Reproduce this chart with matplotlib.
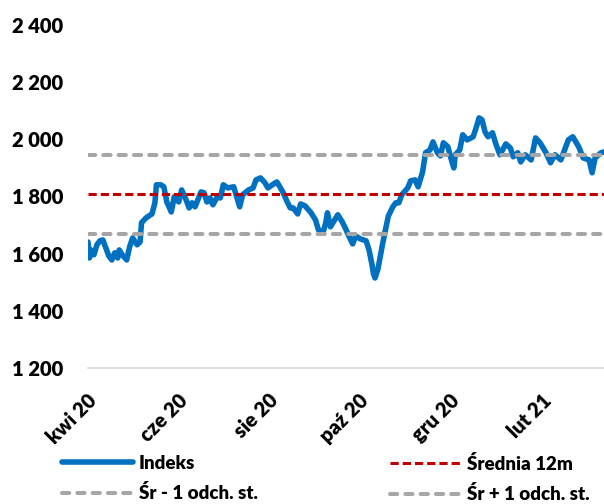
import matplotlib
matplotlib.use('Agg')
import matplotlib.pyplot as plt
from matplotlib.lines import Line2D
from matplotlib.transforms import ScaledTranslation
import pandas as pd

# ---- data -------------------------------------------------------------
dates = [
    '2020-03-25', '2020-03-26', '2020-03-27', '2020-03-29', '2020-03-31',
    '2020-04-02', '2020-04-04', '2020-04-06', '2020-04-08', '2020-04-10',
    '2020-04-12', '2020-04-14', '2020-04-15', '2020-04-17', '2020-04-20',
    '2020-04-22', '2020-04-24', '2020-04-27', '2020-04-29', '2020-04-30',
    '2020-05-03', '2020-05-07', '2020-05-09', '2020-05-10', '2020-05-13',
    '2020-05-15', '2020-05-17', '2020-05-20', '2020-05-22', '2020-05-25',
    '2020-05-27', '2020-05-30', '2020-06-01', '2020-06-03', '2020-06-05',
    '2020-06-09', '2020-06-11', '2020-06-13', '2020-06-15', '2020-06-17',
    '2020-06-20', '2020-06-22', '2020-06-24', '2020-06-27', '2020-07-01',
    '2020-07-03', '2020-07-05', '2020-07-07', '2020-07-11', '2020-07-14',
    '2020-07-16', '2020-07-19', '2020-07-22', '2020-07-24', '2020-07-27',
    '2020-07-30', '2020-08-01', '2020-08-03', '2020-08-06', '2020-08-08',
    '2020-08-10', '2020-08-13', '2020-08-15', '2020-08-18', '2020-08-22',
    '2020-08-25', '2020-08-27', '2020-08-30', '2020-09-01', '2020-09-02',
    '2020-09-04', '2020-09-06', '2020-09-09', '2020-09-12', '2020-09-14',
    '2020-09-16', '2020-09-19', '2020-09-21', '2020-09-24', '2020-09-28',
    '2020-09-30', '2020-10-02', '2020-10-03', '2020-10-04', '2020-10-06',
    '2020-10-09', '2020-10-11', '2020-10-13', '2020-10-16', '2020-10-18',
    '2020-10-20', '2020-10-22', '2020-10-26', '2020-10-28', '2020-10-31',
    '2020-11-02', '2020-11-05', '2020-11-07', '2020-11-10', '2020-11-12',
    '2020-11-15', '2020-11-17', '2020-11-19', '2020-11-22', '2020-11-24',
    '2020-11-26', '2020-11-27', '2020-11-30', '2020-12-02', '2020-12-05',
    '2020-12-09', '2020-12-11', '2020-12-13', '2020-12-15', '2020-12-17',
    '2020-12-19', '2020-12-22', '2020-12-24', '2020-12-27', '2020-12-31',
    '2021-01-03', '2021-01-05', '2021-01-08', '2021-01-10', '2021-01-13',
    '2021-01-17', '2021-01-20', '2021-01-23', '2021-01-27', '2021-01-30',
    '2021-02-02', '2021-02-06', '2021-02-09', '2021-02-11', '2021-02-14',
    '2021-02-18', '2021-02-21', '2021-02-25', '2021-02-27', '2021-03-01',
    '2021-03-05', '2021-03-07',
]

indeks = [
    1641, 1585, 1613, 1596, 1631,
    1645, 1648, 1620, 1592, 1578,
    1603, 1585, 1613, 1596, 1578,
    1624, 1655, 1631, 1641, 1708,
    1725, 1739, 1778, 1841, 1841,
    1834, 1781, 1746, 1799, 1781,
    1823, 1788, 1760, 1778, 1764,
    1816, 1813, 1781, 1795, 1771,
    1799, 1795, 1841, 1830, 1834,
    1799, 1764, 1806, 1823, 1830,
    1858, 1865, 1848, 1830, 1841,
    1851, 1834, 1816, 1781, 1760,
    1760, 1739, 1774, 1767, 1743,
    1718, 1683, 1673, 1711, 1743,
    1694, 1711, 1736, 1711, 1690,
    1666, 1634, 1662, 1652, 1645,
    1613, 1561, 1529, 1515, 1547,
    1631, 1683, 1732, 1764, 1778,
    1778, 1806, 1830, 1855, 1858,
    1834, 1886, 1953, 1963, 1991,
    1953, 1942, 1988, 1974, 1935,
    1900, 1946, 1963, 2016, 1998,
    2009, 2040, 2075, 2068, 2026,
    2009, 2023, 1988, 1946, 1984,
    1970, 1939, 1953, 1921, 1946,
    1928, 2005, 1988, 1953, 1918,
    1946, 1928, 1970, 1998, 2009,
    1974, 1935, 1928, 1883, 1935,
    1953, 1956,
]

srednia_12m = 1807
odch_st = 138

tick_dates = ['2020-04-01', '2020-06-01', '2020-08-01',
              '2020-10-01', '2020-12-01', '2021-02-01']
tick_labels = ['kwi 20', 'cze 20', 'sie 20', 'paź 20', 'gru 20', 'lut 21']
ytick_values = [1200, 1400, 1600, 1800, 2000, 2200, 2400]
ytick_labels = ['1 200', '1 400', '1 600', '1 800', '2 000', '2 200', '2 400']

legend_labels = ['Indeks', 'Średnia 12m', 'Śr - 1 odch. st.', 'Śr + 1 odch. st.']

# ---- style ------------------------------------------------------------
plt.rcParams['font.family'] = ['Lato', 'DejaVu Sans']
WEIGHT = 'heavy'

BLUE = '#0070C0'
RED = '#C00000'
GRAY = '#A6A6A6'

fig = plt.figure(figsize=(6.04, 5.04), dpi=100)
ax = fig.add_axes([88 / 604, (504 - 368) / 504, (604 - 88) / 604, 343 / 504])

x = pd.to_datetime(dates)
ax.plot(x, indeks, color=BLUE, lw=4.0, solid_joinstyle='round',
        solid_capstyle='round', zorder=2)

red_kw = dict(color=RED, lw=2.2, dashes=(2.7, 1.3), zorder=3)
gray_kw = dict(color=GRAY, lw=2.9, dashes=(1.8, 2.0),
               dash_capstyle='round', zorder=3)
ax.axhline(srednia_12m, **red_kw)
ax.axhline(srednia_12m - odch_st, **gray_kw)
ax.axhline(srednia_12m + odch_st, **gray_kw)

ax.set_xlim(x[0], x[-1])
ax.set_ylim(ytick_values[0], ytick_values[-1])

ax.set_yticks(ytick_values)
ax.set_yticklabels(ytick_labels, fontsize=14.5, fontweight=WEIGHT)
ax.set_xticks(pd.to_datetime(tick_dates))
ax.set_xticklabels(tick_labels, fontsize=14.5, fontweight=WEIGHT,
                   rotation=45, ha='right', va='center',
                   rotation_mode='anchor')
ax.tick_params(axis='y', length=0, pad=18)
ax.tick_params(axis='x', length=0, pad=21)
shift = ScaledTranslation(-5 / 100, 0, fig.dpi_scale_trans)
for lbl in ax.get_xticklabels():
    lbl.set_transform(lbl.get_transform() + shift)

for s in ['left', 'right', 'top']:
    ax.spines[s].set_visible(False)
ax.spines['bottom'].set_color('#D9D9D9')
ax.spines['bottom'].set_linewidth(1.2)
ax.set_facecolor('white')

h_ind = Line2D([], [], color=BLUE, lw=4.0, solid_capstyle='round')
h_sr = Line2D([], [], **{k: v for k, v in red_kw.items() if k != 'zorder'})
h_g = Line2D([], [], **{k: v for k, v in gray_kw.items() if k != 'zorder'})

leg_kw = dict(frameon=False, borderpad=0, borderaxespad=0, handlelength=3.8,
              handletextpad=0.3, labelspacing=0.66,
              prop={'size': 13.5, 'weight': WEIGHT})
fig.legend([h_ind, h_g], [legend_labels[0], legend_labels[2]],
           loc='upper left', bbox_to_anchor=(62 / 604, 1 - 455 / 504), **leg_kw)
fig.legend([h_sr, h_g], [legend_labels[1], legend_labels[3]],
           loc='upper left', bbox_to_anchor=(390 / 604, 1 - 455 / 504), **leg_kw)

fig.savefig('out.png', dpi=100, facecolor='white')
